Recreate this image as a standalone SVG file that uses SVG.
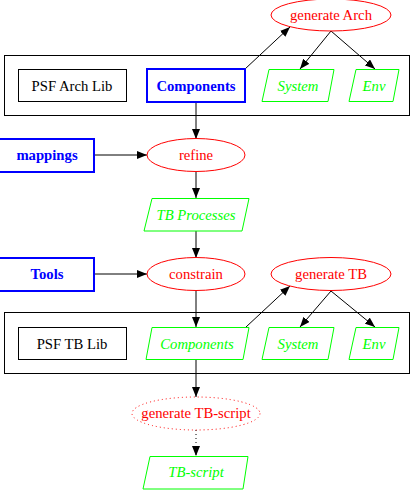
<svg xmlns="http://www.w3.org/2000/svg" width="411" height="496" viewBox="0 0 411 496">
<style>
text{font-family:"Liberation Serif","Times New Roman",serif;font-size:14.7px;text-anchor:middle;dominant-baseline:central}
.cl{fill:none;stroke:#000;stroke-width:1}
.box{fill:#fff;stroke:#000;stroke-width:1}
.bbox{fill:#fff;stroke:#0000ff;stroke-width:2}
.bt{fill:#0000ff;font-weight:bold}
.el{fill:#fff;stroke:#ff0000;stroke-width:1}
.et{fill:#ff0000}
.pg{fill:#fff;stroke:#00ff00;stroke-width:1}
.pt{fill:#00ff00;font-style:italic}
.e{fill:none;stroke:#000;stroke-width:1}
</style>
<defs>
<marker id="ah" viewBox="0 0 10 8" refX="10" refY="4" markerWidth="10" markerHeight="8" markerUnits="userSpaceOnUse" orient="auto">
<path d="M0,0 L10,4 L0,8 Z" fill="#000"/>
</marker>
</defs>
<rect x="0" y="0" width="411" height="496" fill="#fff"/>
<g id="cluster_arch"><rect class="cl" x="4.5" y="55.5" width="405" height="60"/></g>
<g id="cluster_tb"><rect class="cl" x="4.5" y="312.5" width="405" height="61"/></g>
<g id="connectors">
<path class="e" d="M245,69 L290,27" marker-end="url(#ah)"/>
<path class="e" d="M331,31 L300,69" marker-end="url(#ah)"/>
<path class="e" d="M331,31 L375,69" marker-end="url(#ah)"/>
<path class="e" d="M196,102 L196,139" marker-end="url(#ah)"/>
<path class="e" d="M94,155 L147,155" marker-end="url(#ah)"/>
<path class="e" d="M196,172 L196,198" marker-end="url(#ah)"/>
<path class="e" d="M196,231 L196,258" marker-end="url(#ah)"/>
<path class="e" d="M94,274 L147,274" marker-end="url(#ah)"/>
<path class="e" d="M196,291 L196,327" marker-end="url(#ah)"/>
<path class="e" d="M246,327 L290,286" marker-end="url(#ah)"/>
<path class="e" d="M331,291 L300,327" marker-end="url(#ah)"/>
<path class="e" d="M331,291 L375,327" marker-end="url(#ah)"/>
<path class="e" d="M196,359 L196,397" marker-end="url(#ah)"/>
<path class="e" d="M196,430 L196,456" stroke-dasharray="1,3" marker-end="url(#ah)"/>
</g>
<g id="genArch"><ellipse class="el" cx="331" cy="15" rx="60" ry="16"/><text class="et" x="331" y="15">generate Arch</text></g>
<g id="psfArchLib"><rect class="box" x="18.5" y="69.5" width="108" height="32"/><text x="72" y="86" fill="#000">PSF Arch Lib</text></g>
<g id="archComponents"><rect class="bbox" x="147" y="69" width="98" height="33"/><text class="bt" x="196" y="86">Components</text></g>
<g id="archSystem"><polygon class="pg" points="269,69.5 334,69.5 328,101.5 262,101.5"/><text class="pt" x="298" y="86">System</text></g>
<g id="archEnv"><polygon class="pg" points="356,69.5 399,69.5 393,101.5 349,101.5"/><text class="pt" x="374" y="86">Env</text></g>
<g id="mappings"><rect class="bbox" x="-2" y="139" width="96" height="33"/><text class="bt" x="47" y="155">mappings</text></g>
<g id="refine"><ellipse class="el" cx="196" cy="155" rx="49" ry="16.5"/><text class="et" x="196" y="155">refine</text></g>
<g id="tbProcesses"><polygon class="pg" points="152,198.5 249,198.5 242,231 144,231"/><text class="pt" x="196" y="215">TB Processes</text></g>
<g id="tools"><rect class="bbox" x="-2" y="258" width="96" height="33"/><text class="bt" x="47" y="274">Tools</text></g>
<g id="constrain"><ellipse class="el" cx="196" cy="274" rx="49" ry="16.5"/><text class="et" x="196" y="274">constrain</text></g>
<g id="genTB"><ellipse class="el" cx="331" cy="274" rx="60" ry="16.5"/><text class="et" x="331" y="274">generate TB</text></g>
<g id="psfTBLib"><rect class="box" x="18.5" y="327.5" width="108" height="32"/><text x="72" y="344" fill="#000">PSF TB Lib</text></g>
<g id="tbComponents"><polygon class="pg" points="152,327.5 249,327.5 243,359.5 146,359.5"/><text class="pt" x="197" y="344">Components</text></g>
<g id="tbSystem"><polygon class="pg" points="269,327.5 334,327.5 328,359.5 262,359.5"/><text class="pt" x="298" y="344">System</text></g>
<g id="tbEnv"><polygon class="pg" points="356,327.5 399,327.5 393,359.5 349,359.5"/><text class="pt" x="374" y="344">Env</text></g>
<g id="genTBscript"><ellipse class="el" cx="196" cy="413.5" rx="64" ry="16.5" stroke-dasharray="1,3"/><text class="et" x="196" y="413">generate TB-script</text></g>
<g id="tbScript"><polygon class="pg" points="150,456.5 248,456.5 243,489 143,489"/><text class="pt" x="196" y="472">TB-script</text></g>
</svg>
